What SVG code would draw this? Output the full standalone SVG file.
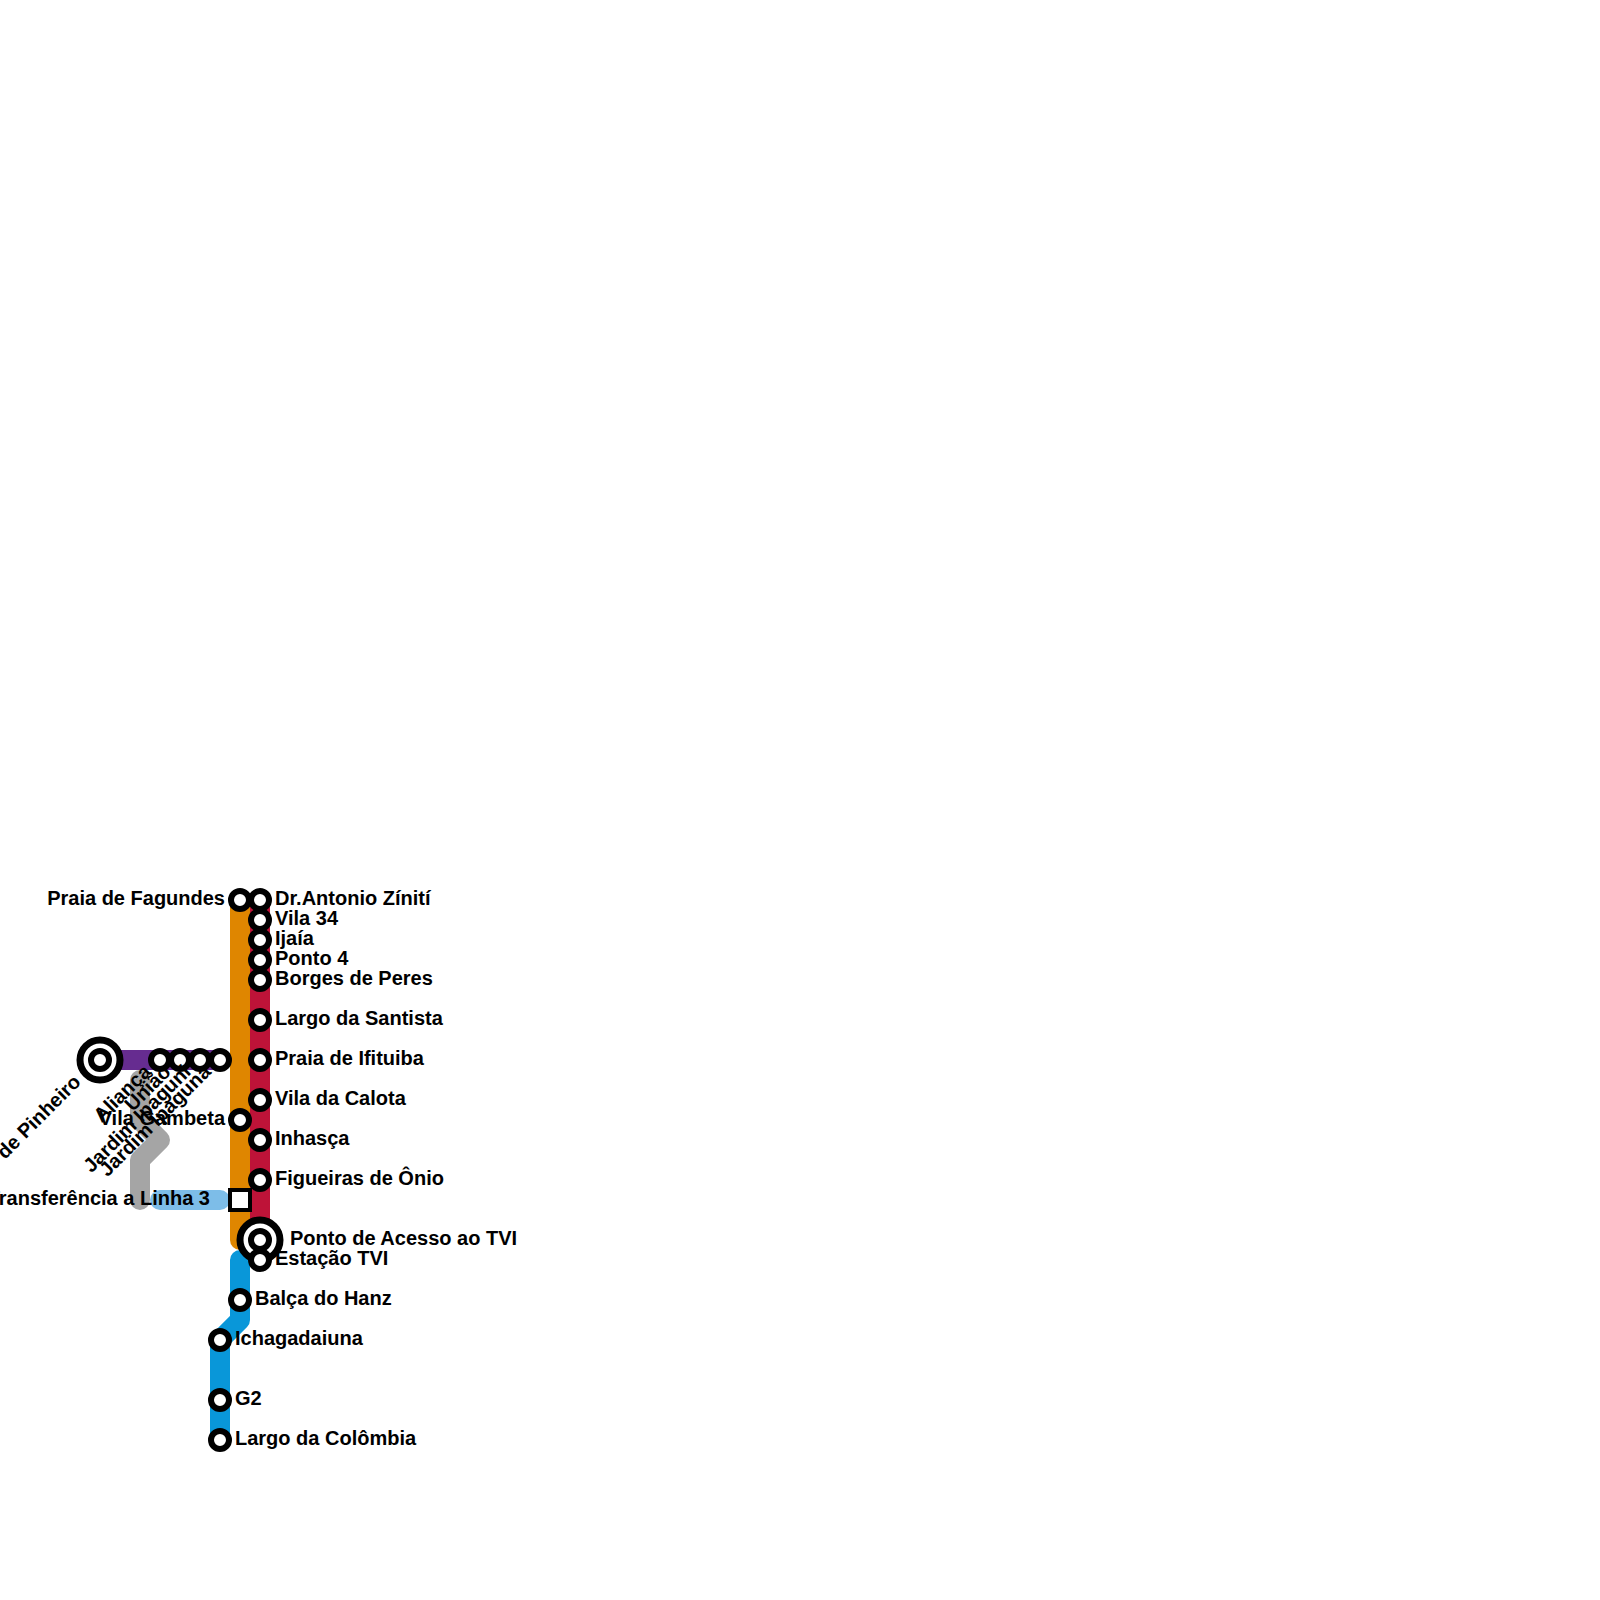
<svg xmlns="http://www.w3.org/2000/svg" width="1600" height="1600" viewBox="0 0 1600 1600">
<style>
.l{fill:none;stroke-width:20;stroke-linecap:round;stroke-linejoin:round}
.s{fill:#fff;stroke:#000;stroke-width:6}
.b{fill:#fff;stroke:#000;stroke-width:7}
.q{fill:#fff;stroke:#000;stroke-width:4}
.t{font-family:"Liberation Sans",Arial,sans-serif;font-weight:700;font-size:20px;fill:#000}
.e{text-anchor:end}
</style>
<rect width="1600" height="1600" fill="#fff"/>
<g id="connectors">
<path class="l" stroke="#a5a5a5" d="M140 1080V1120L160 1140L140 1160V1200"/>
<path class="l" stroke="#7dbde8" d="M160 1200H220"/>
<path class="l" stroke="#662c90" d="M100 1060H220"/>
<path class="l" stroke="#df8600" d="M240 900V1240"/>
<path class="l" stroke="#be1338" d="M260 900V1240"/>
<path class="l" stroke="#0997d9" d="M240 1260V1320L220 1340V1440"/>
</g>
<g id="pinheiro"><circle class="b" cx="100" cy="1060" r="20"/><circle class="s" cx="100" cy="1060" r="9"/><text class="t e" transform="translate(82 1083) rotate(-45)">de Pinheiro</text></g>
<g id="alianca"><circle class="s" cx="160" cy="1060" r="9"/><text class="t e" transform="translate(152 1073) rotate(-45)">Aliança</text></g>
<g id="uniao"><circle class="s" cx="180" cy="1060" r="9"/><text class="t e" transform="translate(172 1073) rotate(-45)">União</text></g>
<g id="iaguni"><circle class="s" cx="200" cy="1060" r="9"/><text class="t e" transform="translate(192 1073) rotate(-45)">Jardim Ipaguni</text></g>
<g id="iaguna"><circle class="s" cx="220" cy="1060" r="9"/><text class="t e" transform="translate(212 1073) rotate(-45)">Jardim Ipaguna</text></g>
<g id="fagundes"><circle class="s" cx="240" cy="900" r="9"/><text class="t e" x="225" y="905">Praia de Fagundes</text></g>
<g id="gambeta"><circle class="s" cx="240" cy="1120" r="9"/><text class="t e" x="225" y="1125">Vila Gambeta</text></g>
<g id="transferencia"><rect class="q" x="230" y="1190" width="20" height="20"/><text class="t e" x="210" y="1205">Transferência a Linha 3</text></g>
<g id="zinit"><circle class="s" cx="260" cy="900" r="9"/><text class="t" x="275" y="905">Dr.Antonio Zínití</text></g>
<g id="v34"><circle class="s" cx="260" cy="920" r="9"/><text class="t" x="275" y="925">Vila 34</text></g>
<g id="ijaia"><circle class="s" cx="260" cy="940" r="9"/><text class="t" x="275" y="945">Ijaía</text></g>
<g id="p4"><circle class="s" cx="260" cy="960" r="9"/><text class="t" x="275" y="965">Ponto 4</text></g>
<g id="borges"><circle class="s" cx="260" cy="980" r="9"/><text class="t" x="275" y="985">Borges de Peres</text></g>
<g id="santista"><circle class="s" cx="260" cy="1020" r="9"/><text class="t" x="275" y="1025">Largo da Santista</text></g>
<g id="ifituiba"><circle class="s" cx="260" cy="1060" r="9"/><text class="t" x="275" y="1065">Praia de Ifituiba</text></g>
<g id="calota"><circle class="s" cx="260" cy="1100" r="9"/><text class="t" x="275" y="1105">Vila da Calota</text></g>
<g id="inhasca"><circle class="s" cx="260" cy="1140" r="9"/><text class="t" x="275" y="1145">Inhasça</text></g>
<g id="figueiras"><circle class="s" cx="260" cy="1180" r="9"/><text class="t" x="275" y="1185">Figueiras de Ônio</text></g>
<g id="acesso"><circle class="b" cx="260" cy="1240" r="20"/><circle class="s" cx="260" cy="1240" r="9"/><text class="t" x="290" y="1245">Ponto de Acesso ao TVI</text></g>
<g id="tvi"><circle class="s" cx="260" cy="1260" r="9"/><text class="t" x="275" y="1265">Estação TVI</text></g>
<g id="hanz"><circle class="s" cx="240" cy="1300" r="9"/><text class="t" x="255" y="1305">Balça do Hanz</text></g>
<g id="ichaga"><circle class="s" cx="220" cy="1340" r="9"/><text class="t" x="235" y="1345">Ichagadaiuna</text></g>
<g id="g2"><circle class="s" cx="220" cy="1400" r="9"/><text class="t" x="235" y="1405">G2</text></g>
<g id="colombia"><circle class="s" cx="220" cy="1440" r="9"/><text class="t" x="235" y="1445">Largo da Colômbia</text></g>
</svg>
